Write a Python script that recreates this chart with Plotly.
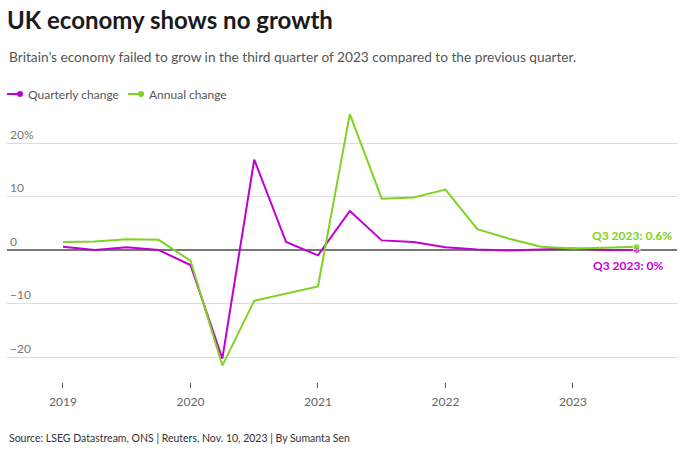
import plotly.graph_objects as go

quarters = [2019 + i * 0.25 for i in range(19)]  # 2019 Q1 .. 2023 Q3
quarterly_change = [0.6, 0.0, 0.5, 0.0, -2.8, -20.3, 16.9, 1.5, -1.0, 7.3, 1.8, 1.5,
                    0.5, 0.1, -0.1, 0.1, 0.3, 0.0, 0.0]
annual_change = [1.5, 1.6, 2.0, 1.9, -2.0, -21.6, -9.5, -8.2, -6.8, 25.4, 9.6, 9.8,
                 11.3, 3.9, 2.1, 0.6, 0.3, 0.4, 0.6]
year_ticks = [2019, 2020, 2021, 2022, 2023]
y_ticks = [-20, -10, 0, 10, 20]
y_tick_text = ["\u221220", "\u221210", "0", "10", "20%"]
series_names = ["Quarterly change", "Annual change"]

PURPLE = "#c000d0"
GREEN = "#7fd321"
FONT = "Lato"

fig = go.Figure()
for name, vals, col in [(series_names[0], quarterly_change, PURPLE),
                        (series_names[1], annual_change, GREEN)]:
    fig.add_trace(go.Scatter(
        x=quarters, y=vals, name=name, mode="lines+markers",
        line=dict(color=col, width=2),
        marker=dict(color=col, size=[0] * (len(vals) - 1) + [7]),
        showlegend=False,
    ))

fig.add_annotation(x=quarters[-1], y=annual_change[-1], text="<b>Q3 2023: 0.6%</b>",
                   showarrow=False, xanchor="left", yanchor="bottom", xshift=-47, yshift=2,
                   font=dict(color=GREEN, size=12, family=FONT))
fig.add_annotation(x=quarters[-1], y=quarterly_change[-1], text="<b>Q3 2023: 0%</b>",
                   showarrow=False, xanchor="left", yanchor="top", xshift=-46, yshift=-6,
                   font=dict(color=PURPLE, size=12, family=FONT))

# custom legend (plot area spans 670 px wide, 282 px high)
PW, PH = 670.0, 282.0
leg_y = (382 - 94) / PH
for (x0px, col, name) in [(0, PURPLE, series_names[0]), (121, GREEN, series_names[1])]:
    fig.add_shape(type="line", xref="paper", yref="paper",
                  x0=x0px / PW, x1=(x0px + 13) / PW, y0=leg_y, y1=leg_y,
                  line=dict(color=col, width=2))
    fig.add_shape(type="circle", xref="paper", yref="paper",
                  xsizemode="pixel", ysizemode="pixel",
                  xanchor=(x0px + 13) / PW, yanchor=leg_y, x0=-3, x1=3, y0=-3, y1=3,
                  fillcolor=col, line=dict(color=col, width=0))
    fig.add_annotation(xref="paper", yref="paper", x=(x0px + 19) / PW, y=leg_y,
                       xanchor="left", yanchor="middle", text=name, showarrow=False,
                       font=dict(size=12, color="#555555", family=FONT))

fig.update_layout(
    width=692, height=453,
    margin=dict(l=7, r=15, t=100, b=71),
    paper_bgcolor="white", plot_bgcolor="white",
    font=dict(family=FONT, color="#666666", size=12),
    title=dict(text="<b>UK economy shows no growth</b>", x=0.01, xanchor="left",
               y=0.955, yanchor="middle", font=dict(size=24, color="#1a1a1a", family=FONT)),
    showlegend=False,
    xaxis=dict(range=[2018.561, 2023.816], tickvals=year_ticks,
               ticktext=[str(y) for y in year_ticks], showgrid=False, zeroline=False,
               showline=False, ticks="outside", ticklen=5, tickcolor="#555555",
               ticklabelstandoff=4,
               tickfont=dict(size=12, color="#666666"), fixedrange=True),
    yaxis=dict(range=[-24.67, 28.04], tickvals=y_ticks, ticktext=y_tick_text,
               ticklabelposition="inside top", showgrid=True, gridcolor="#dddddd",
               gridwidth=1, zeroline=True, zerolinecolor="#777777", zerolinewidth=1.5,
               showline=False, tickfont=dict(size=12, color="#777777")),
)

fig.add_annotation(xref="paper", yref="paper", x=0.0, y=(382 - 57) / PH, xanchor="left", yanchor="middle",
                   text="Britain\u2019s economy failed to grow in the third quarter of 2023 compared to the previous quarter.",
                   showarrow=False, font=dict(size=13.7, color="#555555", family=FONT))
fig.add_annotation(xref="paper", yref="paper", x=0.0, y=(382 - 438) / PH, xanchor="left", yanchor="middle",
                   text="Source: LSEG Datastream, ONS | Reuters, Nov. 10, 2023 | By Sumanta Sen",
                   showarrow=False, font=dict(size=10.5, color="#333333", family=FONT))

fig.write_html("out.html", config={"displayModeBar": False},
               post_script="document.body.style.margin='0';")
